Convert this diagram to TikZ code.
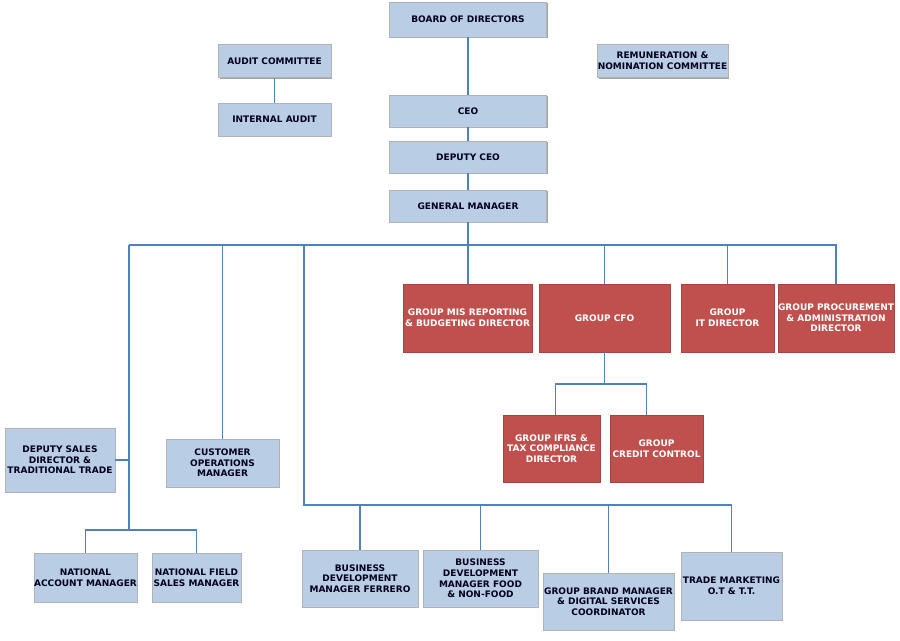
\documentclass[tikz,border=0pt]{standalone}
\usepackage{fontspec}
\setmainfont{DejaVu Sans}
\usetikzlibrary{shadows}

\definecolor{postblue}{HTML}{B9CDE5}
\definecolor{postred}{HTML}{C0504D}
\definecolor{linkblue}{HTML}{4F81BD}
\def\px{0.70866pt}

\tikzset{
  post/.style={draw=gray!60, fill=postblue, text=black!90!blue,
    font=\bfseries\fontsize{6.4}{7.6}\selectfont, align=center, inner sep=0pt,
    drop shadow={shadow xshift=1pt, shadow yshift=-1pt, opacity=.7, fill=gray}},
  redpost/.style={post, draw=postred!85!black, fill=postred, text=white},
  size/.style 2 args={minimum width=#1*\px, minimum height=#2*\px},
  link/.style={draw=linkblue, line width=0.8pt},
}

\begin{document}
\begin{tikzpicture}[x=0.025cm, y=-0.025cm]
  \useasboundingbox (0,0) rectangle (900,640);

  % board level
  \node[post, size={158}{35}] (board) at (468,19.5) {BOARD OF DIRECTORS};
  \node[post, size={113}{33}] (audit) at (274.5,61) {AUDIT COMMITTEE};
  \node[post, size={113}{33}] (intaudit) at (274.5,119.5) {INTERNAL AUDIT};
  \node[post, size={131}{33}] (remun) at (662.5,61) {REMUNERATION \&\\NOMINATION COMMITTEE};
  \node[post, size={158}{32}] (ceo) at (468,111) {CEO};
  \node[post, size={158}{32}] (dceo) at (468,157) {DEPUTY CEO};
  \node[post, size={158}{32}] (gm) at (468,206) {GENERAL MANAGER};

  % group directors
  \node[redpost, size={129}{68}] (mis) at (467.5,318) {GROUP MIS REPORTING\\\& BUDGETING DIRECTOR};
  \node[redpost, size={131}{68}] (cfo) at (604.5,318) {GROUP CFO};
  \node[redpost, size={93}{68}] (it) at (727.5,318) {GROUP\\IT DIRECTOR};
  \node[redpost, size={112}{68}] (proc) at (836,318) {GROUP PROCUREMENT\\\& ADMINISTRATION\\DIRECTOR};
  \node[redpost, size={97}{67}] (ifrs) at (551.5,448.5) {GROUP IFRS \&\\TAX COMPLIANCE\\DIRECTOR};
  \node[redpost, size={93}{67}] (credit) at (656.5,448.5) {GROUP\\CREDIT CONTROL};

  % sales side
  \node[post, size={110}{64}] (dsales) at (60,460) {DEPUTY SALES\\DIRECTOR \&\\TRADITIONAL TRADE};
  \node[post, size={113}{48}] (custops) at (222.5,463) {CUSTOMER\\OPERATIONS\\MANAGER};
  \node[post, size={103}{49}] (natacc) at (85.5,577.5) {NATIONAL\\ACCOUNT MANAGER};
  \node[post, size={89}{49}] (natfield) at (196.5,577.5) {NATIONAL FIELD\\SALES MANAGER};
  \node[post, size={116}{57}] (bdferrero) at (360,578.5) {BUSINESS\\DEVELOPMENT\\MANAGER FERRERO};
  \node[post, size={115}{57}] (bdfood) at (480.5,578.5) {BUSINESS\\DEVELOPMENT\\MANAGER FOOD\\\& NON-FOOD};
  \node[post, size={131}{57}] (brand) at (608.5,601.5) {GROUP BRAND MANAGER\\\& DIGITAL SERVICES\\COORDINATOR};
  \node[post, size={101}{68}] (trade) at (731.5,586) {TRADE MARKETING\\O.T \& T.T.};

  \coordinate (busL) at (129,245);
  \coordinate (busR) at (837,245);
  \coordinate (natbus) at (129,530);
  \coordinate (bizL) at (304,245);
  \coordinate (bizB) at (304,505);
  \coordinate (bizR) at (732,505);
  \coordinate (cfobus) at (604.5,384);

  % connectors
  \draw[link] (board) -- (ceo);
  \draw[link] (audit) -- (intaudit);
  \draw[link] (ceo) -- (dceo);
  \draw[link] (dceo) -- (gm);
  \draw[link] (gm.south) -- (gm.south |- mis.north);
  \draw[link] (busL) -- (busR);
  \foreach \n in {cfo,it,proc}{
      \draw[link] (\n.north) -- (\n.north |- busR);
    }
  \draw[link] (busL) -- (natbus);
  \draw[link] (dsales.east) -- (dsales.east -| busL);
  \draw[link] (custops.north) -- (custops.north |- busL);
  \draw[link] (natacc.north) |- (natbus) -| (natfield.north);
  \draw[link] (bizL) -- (bizB) -- (bizR);
  \foreach \n in {bdferrero,bdfood,brand,trade}{
      \draw[link] (\n.north) -- (\n.north |- bizB);
    }
  \draw[link] (cfo.south) -- (cfobus);
  \draw[link] ([xshift=3pt]ifrs.north) |- (cfobus) -| ([xshift=-7pt]credit.north);
\end{tikzpicture}
\end{document}
